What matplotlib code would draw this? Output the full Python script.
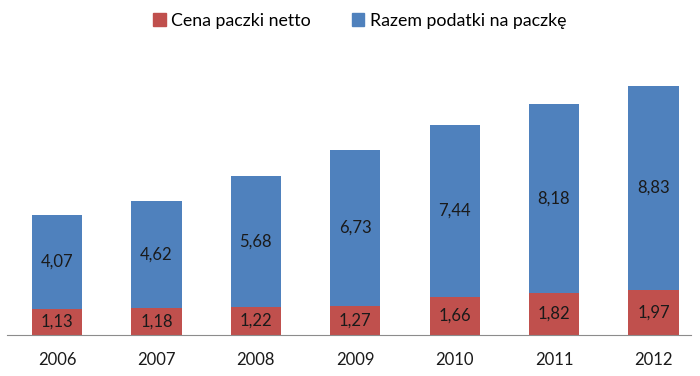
import matplotlib.pyplot as plt
from matplotlib.patches import Patch
import numpy as np

plt.rcParams['font.family'] = ['Lato', 'DejaVu Sans']

years = ["2006", "2007", "2008", "2009", "2010", "2011", "2012"]
cena_netto = [1.13, 1.18, 1.22, 1.27, 1.66, 1.82, 1.97]
podatki = [4.07, 4.62, 5.68, 6.73, 7.44, 8.18, 8.83]

red = "#C0504D"
blue = "#4F81BD"

fig = plt.figure(figsize=(7, 3.76), dpi=100)
ax = fig.add_axes([0.0105, 0.109, 0.994, 0.783])

x = np.arange(len(years))
ax.bar(x, cena_netto, width=0.505, color=red)
ax.bar(x, podatki, width=0.505, bottom=cena_netto, color=blue)

for xi, c, p in zip(x, cena_netto, podatki):
    ax.text(xi, c / 2, f"{c:.2f}".replace(".", ","), ha="center", va="center",
            fontsize=12, color="#1a1a1a")
    ax.text(xi, c + p / 2, f"{p:.2f}".replace(".", ","), ha="center", va="center",
            fontsize=12, color="#1a1a1a")

ax.set_xlim(-0.5, 6.5)
ax.set_ylim(0, 12.75)
ax.set_xticks(x)
ax.set_xticklabels(years, fontsize=12, color="#1a1a1a")
ax.tick_params(axis="x", length=0, pad=12)
ax.set_yticks([])
for s in ["top", "left", "right"]:
    ax.spines[s].set_visible(False)
ax.spines["bottom"].set_color("#8c8c8c")
ax.spines["bottom"].set_bounds(-0.5, 6.38)

handles = [Patch(color=red, label="Cena paczki netto"),
           Patch(color=blue, label="Razem podatki na paczkę")]
fig.legend(handles=handles, loc="center", bbox_to_anchor=(0.514, 0.945), ncol=2,
           frameon=False, fontsize=12.8, handlelength=0.7, handleheight=0.7,
           handletextpad=0.3, columnspacing=2.3)

fig.savefig("out.png", dpi=100)
